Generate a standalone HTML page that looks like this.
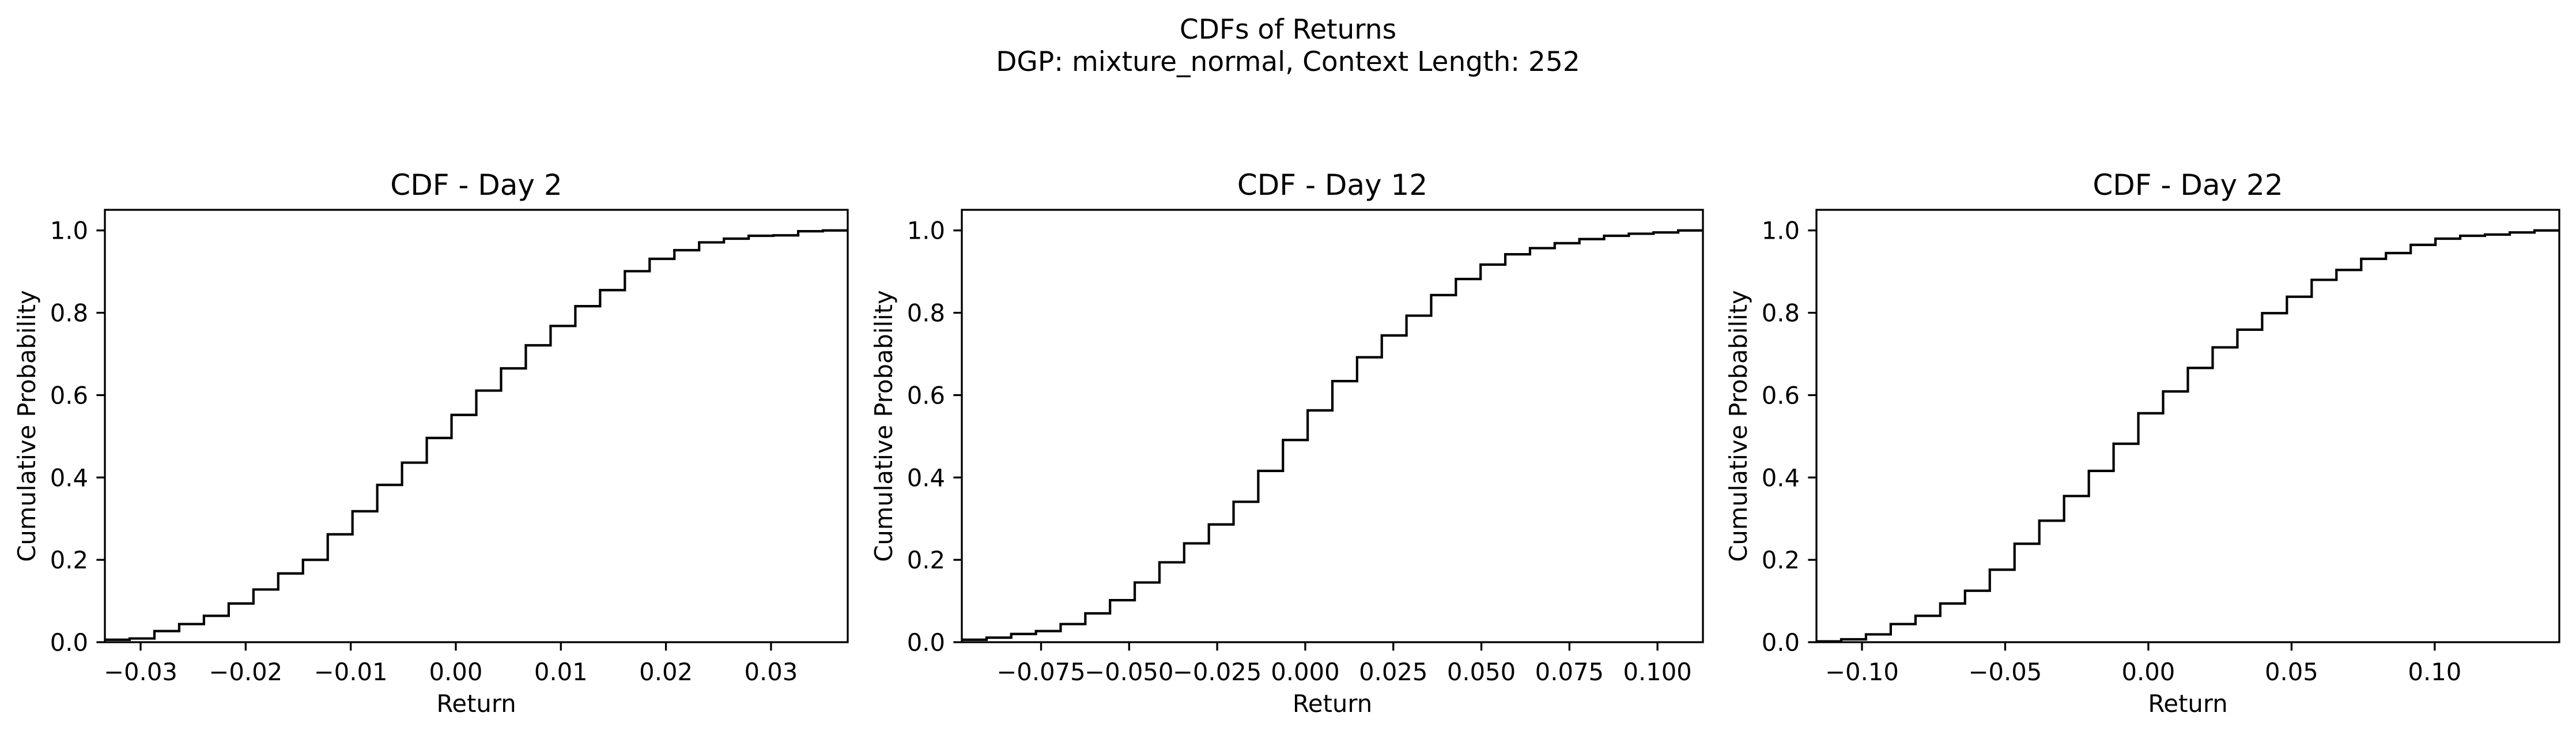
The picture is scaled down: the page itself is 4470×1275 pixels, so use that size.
<!DOCTYPE html>
<html><head><meta charset="utf-8">
<style>
html,body{margin:0;padding:0;background:#fff;}
svg{display:block;}
text{font-family:"DejaVu Sans","Liberation Sans",sans-serif;fill:#000;}
</style></head>
<body>
<svg id="fig" width="4470" height="1275" viewBox="0 0 4470 1275" xmlns="http://www.w3.org/2000/svg">
<rect width="4470" height="1275" fill="#fff"/>
<text x="2235" y="67" font-size="47" text-anchor="middle">CDFs of Returns</text>
<text x="2235" y="123" font-size="47" text-anchor="middle">DGP: mixture_normal, Context Length: 252</text>
</svg>
<script>
// Panel titles
const panelTitles = ["CDF - Day 2", "CDF - Day 12", "CDF - Day 22"];
// x-range (data min/max) of each histogram
const xMins = [-0.0334, -0.0975, -0.1159];
const xMaxs = [0.0373, 0.1129, 0.1435];
// cumulative probability per bin (30 equal bins)
const cdfDay2 = [0.006,0.009,0.027,0.044,0.064,0.094,0.128,0.167,0.200,0.262,0.318,0.382,0.436,0.496,0.552,0.611,0.665,0.721,0.768,0.816,0.855,0.901,0.931,0.952,0.971,0.980,0.987,0.988,0.998,1.0];
const cdfDay12 = [0.006,0.011,0.020,0.027,0.044,0.070,0.102,0.145,0.194,0.240,0.286,0.341,0.416,0.491,0.563,0.634,0.692,0.745,0.793,0.843,0.882,0.917,0.942,0.957,0.969,0.979,0.987,0.992,0.995,1.0];
const cdfDay22 = [0.002,0.007,0.019,0.044,0.064,0.094,0.125,0.176,0.239,0.295,0.355,0.416,0.482,0.556,0.609,0.666,0.716,0.759,0.799,0.839,0.880,0.904,0.931,0.945,0.965,0.980,0.987,0.990,0.995,1.0];
// tick values and labels
const xTicksDay2 = [-0.03,-0.02,-0.01,0,0.01,0.02,0.03];
const xTickLabelsDay2 = ["−0.03","−0.02","−0.01","0.00","0.01","0.02","0.03"];
const xTicksDay12 = [-0.075,-0.05,-0.025,0,0.025,0.05,0.075,0.1];
const xTickLabelsDay12 = ["−0.075","−0.050","−0.025","0.000","0.025","0.050","0.075","0.100"];
const xTicksDay22 = [-0.1,-0.05,0,0.05,0.1];
const xTickLabelsDay22 = ["−0.10","−0.05","0.00","0.05","0.10"];
const yTicks = [0,0.2,0.4,0.6,0.8,1.0];
const yTickLabels = ["0.0","0.2","0.4","0.6","0.8","1.0"];

const series = [cdfDay2, cdfDay12, cdfDay22];
const xTicksAll = [xTicksDay2, xTicksDay12, xTicksDay22];
const xLabelsAll = [xTickLabelsDay2, xTickLabelsDay12, xTickLabelsDay22];
const axLeft = [182, 1669, 3152];
const axRight = [1471, 2955, 4441];
const axTop = 364, axBottom = 1114;
const yMin = 0, yMax = 1.05;
const NS = "http://www.w3.org/2000/svg";
const svg = document.getElementById('fig');

function mk(tag, attrs, parent){
  const e = document.createElementNS(NS, tag);
  for (const k in attrs) e.setAttribute(k, attrs[k]);
  (parent||svg).appendChild(e);
  return e;
}

for (let p = 0; p < 3; p++) {
  const L = axLeft[p], R = axRight[p];
  const g = mk('g', {});
  
  
  const xs = v => L + (v - xMins[p]) / (xMaxs[p] - xMins[p]) * (R - L);
  const ys = v => axBottom - (v - yMin) / (yMax - yMin) * (axBottom - axTop);
  const vals = series[p];
  const n = vals.length;
  const bw = (xMaxs[p] - xMins[p]) / n;
  let d = '';
  for (let i = 0; i < n; i++) {
    const x0 = xs(xMins[p] + i*bw), x1 = xs(xMins[p] + (i+1)*bw), y = ys(vals[i]);
    d += (i === 0 ? 'M' + x0 + ' ' + y : 'L' + x0 + ' ' + y) + ' L' + x1 + ' ' + y + ' ';
  }
  const line = mk('path', {d: d, fill: 'none', stroke: '#000', 'stroke-width': 4.2}, g);
  
  
  const frame = mk('rect', {x: L, y: axTop, width: R - L, height: axBottom - axTop, fill: 'none', stroke: '#000', 'stroke-width': 3.3}, g);
  
  
  // x ticks
  const xt = xTicksAll[p], xl = xLabelsAll[p];
  for (let i = 0; i < xt.length; i++) {
    const x = xs(xt[i]);
    const t = mk('line', {x1: x, x2: x, y1: axBottom, y2: axBottom + 14.6, stroke: '#000', 'stroke-width': 3.3}, g);
    
    
    const tl = mk('text', {x: x, y: 1180, 'font-size': 41.7, 'text-anchor': 'middle'}, g);
    
    
    tl.textContent = xl[i];
  }
  for (let i = 0; i < yTicks.length; i++) {
    const y = ys(yTicks[i]);
    const t = mk('line', {x1: L - 14.6, x2: L, y1: y, y2: y, stroke: '#000', 'stroke-width': 3.3}, g);
    
    
    const tl = mk('text', {x: L - 29, y: y + 15, 'font-size': 41.7, 'text-anchor': 'end'}, g);
    
    
    tl.textContent = yTickLabels[i];
  }
  const title = mk('text', {x: (L+R)/2, y: 338, 'font-size': 50, 'text-anchor': 'middle'}, g);
  
  
  title.textContent = panelTitles[p];
  const xlab = mk('text', {x: (L+R)/2, y: 1235, 'font-size': 41.7, 'text-anchor': 'middle'}, g);
  
  
  xlab.textContent = 'Return';
  const ylx = L - 121, yly = (axTop + axBottom)/2;
  const ylab = mk('text', {x: ylx, y: yly, 'font-size': 41.7, 'text-anchor': 'middle', transform: 'rotate(-90 ' + ylx + ' ' + yly + ')'}, g);
  
  
  ylab.textContent = 'Cumulative Probability';
}
</script>
</body></html>
